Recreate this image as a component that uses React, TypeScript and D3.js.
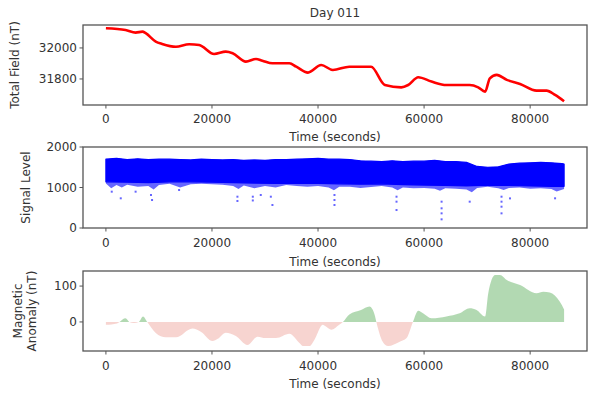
import React from 'react';
import * as d3 from 'd3';

// ---- Data ----
const title = 'Day 011';
const xTicks = [0, 20000, 40000, 60000, 80000];

const fieldTime = [0, 3700, 5600, 6900, 7500, 9400, 10600, 13200, 15700, 17600, 20400, 22600, 23900, 26400, 28300, 29500, 31400, 34600, 35900, 38100, 40600, 42800, 45900, 50000, 52600, 55700, 57000, 58900, 61400, 64200, 68600, 70200, 71500, 72400, 73700, 75600, 78100, 81200, 83100, 84700, 86400];
const fieldValue = [32127, 32116, 32099, 32105, 32095, 32041, 32026, 32008, 32024, 32019, 31961, 31976, 31966, 31912, 31929, 31918, 31901, 31901, 31879, 31841, 31890, 31858, 31879, 31879, 31761, 31746, 31761, 31811, 31783, 31761, 31761, 31746, 31718, 31804, 31826, 31794, 31768, 31725, 31725, 31697, 31656];
const fieldTicks = [31800, 32000];

// Signal level: dense scatter summarised as envelopes + sparse outliers
const sigUpperTime = [0, 2000, 4000, 6000, 8000, 10000, 12000, 14000, 16000, 18000, 20000, 22000, 24000, 26000, 28000, 30000, 32000, 34000, 36000, 38000, 40000, 42000, 44000, 46000, 48000, 50000, 52000, 54000, 56000, 58000, 60000, 62000, 64000, 66000, 68000, 70000, 72000, 74000, 76000, 78000, 80000, 82000, 84000, 86000, 86400];
const sigUpper = [1700, 1720, 1690, 1710, 1690, 1700, 1700, 1690, 1680, 1700, 1690, 1680, 1690, 1670, 1680, 1670, 1690, 1690, 1700, 1710, 1720, 1700, 1700, 1690, 1660, 1650, 1640, 1660, 1640, 1650, 1650, 1670, 1640, 1640, 1620, 1520, 1500, 1510, 1580, 1600, 1610, 1620, 1610, 1590, 1580];
const sigSolidLowerTime = [0, 4000, 8000, 12000, 16000, 20000, 24000, 28000, 32000, 36000, 40000, 44000, 48000, 52000, 56000, 60000, 64000, 68000, 72000, 76000, 80000, 84000, 86400];
const sigSolidLower = [1140, 1130, 1120, 1140, 1140, 1130, 1120, 1110, 1100, 1100, 1100, 1090, 1080, 1090, 1070, 1060, 1050, 1040, 1060, 1050, 1040, 1030, 1030];
const sigFringeTime = [0, 1000, 2000, 3000, 4000, 6000, 8000, 9000, 10000, 12000, 14000, 16000, 18000, 20000, 22000, 24000, 25000, 26000, 28000, 30000, 32000, 34000, 36000, 38000, 40000, 42000, 43000, 44000, 46000, 48000, 50000, 52000, 54000, 55000, 56000, 58000, 60000, 62000, 63000, 64000, 66000, 68000, 69000, 70000, 72000, 74000, 75000, 76000, 78000, 80000, 82000, 84000, 85000, 86400];
const sigFringe = [1100, 980, 1060, 1000, 1070, 1020, 1040, 950, 1060, 1090, 1000, 1080, 1090, 1080, 1070, 1040, 960, 1050, 980, 1040, 1000, 1060, 1040, 1020, 1040, 1000, 930, 1020, 1020, 990, 1010, 1040, 1000, 930, 1000, 980, 990, 970, 920, 980, 970, 950, 880, 990, 1020, 980, 940, 990, 1000, 970, 980, 960, 900, 960];
const outlierTime = [1100, 2800, 5600, 8500, 8700, 13800, 24800, 24800, 27700, 27700, 29200, 31100, 31400, 43100, 43100, 43100, 54800, 54800, 54800, 63300, 63300, 63300, 63300, 68600, 74600, 74600, 74600, 74600, 76200, 84700];
const outlierValue = [897, 733, 897, 815, 691, 938, 773, 667, 773, 680, 815, 773, 568, 815, 691, 568, 773, 650, 444, 650, 486, 362, 214, 650, 773, 650, 526, 362, 731, 733];
const sigTicks = [0, 1000, 2000];

const anomTime = [0, 2100, 3700, 4400, 5300, 6200, 7000, 7800, 9400, 11300, 13200, 16300, 17900, 20100, 21100, 22600, 24500, 26700, 28600, 30100, 32100, 34600, 36500, 37100, 38400, 39300, 40900, 41500, 42500, 44000, 44700, 45900, 48100, 49700, 50700, 51000, 52200, 53200, 55400, 56700, 57900, 58900, 59800, 61400, 64200, 66700, 68600, 69900, 71500, 72100, 73400, 74300, 75600, 78100, 81200, 82500, 83700, 85600, 86400];
const anomValue = [-8, -4, 10, 0, -3, 0, 15, 0, -31, -43, -43, -18, -27, -53, -47, -30, -39, -64, -41, -45, -45, -33, -59, -67, -67, -50, -8, -13, -22, -8, 0, 21, 33, 43, 19, 0, -55, -67, -55, -45, 0, 31, 24, 10, 15, 24, 38, 33, 15, 80, 131, 131, 117, 103, 80, 84, 82, 56, 35];
const anomTicks = [0, 100];

const FONT = 'DejaVu Sans, sans-serif';
const TXT = '#333';
const SPINE = '#555';

export default function App() {
  const W = 589, H = 396;
  const L = 83, R = 587;
  const x = d3.scaleLinear().domain([-4320, 90720]).range([L, R]);

  const p1 = { top: 25, bottom: 105 };
  const p2 = { top: 147, bottom: 228 };
  const p3 = { top: 271, bottom: 351 };

  const y1 = d3.scaleLinear().domain([31632, 32148]).range([p1.bottom, p1.top]);
  const y2 = d3.scaleLinear().domain([0, 2000]).range([p2.bottom, p2.top]);
  const y3 = d3.scaleLinear().domain([-81, 142]).range([p3.bottom, p3.top]);

  const fieldLine = d3.line<number>().x((_, i) => x(fieldTime[i])).y(d => y1(d)).curve(d3.curveMonotoneX)(fieldValue) || '';

  const band = (upT: number[], up: number[], loT: number[], lo: number[]) => {
    const u = upT.map((t, i) => [x(t), y2(up[i])]);
    const l = loT.map((t, i) => [x(t), y2(lo[i])]);
    return 'M' + u.map(p => p.join(',')).join('L') + 'L' + l.slice().reverse().map(p => p.join(',')).join('L') + 'Z';
  };
  const fringePath = band(sigUpperTime, sigUpper, sigFringeTime, sigFringe);
  const solidPath = band(sigUpperTime, sigUpper, sigSolidLowerTime, sigSolidLower);

  const anomArea = d3.area<number>().x((_, i) => x(anomTime[i])).y0(y3(0)).y1(d => y3(d)).curve(d3.curveMonotoneX)(anomValue) || '';

  const fs = 12;

  const xAxis = (bottom: number, labelY: number, tickLabelY: number) => (
    <g>
      {xTicks.map(t => (
        <g key={t}>
          <line x1={x(t)} x2={x(t)} y1={bottom} y2={bottom + 3.5} stroke={SPINE} strokeWidth={1} />
          <text x={x(t)} y={tickLabelY} textAnchor="middle" fontSize={fs} fill={TXT} fontFamily={FONT}>{t}</text>
        </g>
      ))}
      <text x={(L + R) / 2} y={labelY} textAnchor="middle" fontSize={fs} fill={TXT} fontFamily={FONT}>Time (seconds)</text>
    </g>
  );

  const yAxis = (ticks: number[], y: d3.ScaleLinear<number, number>) => (
    <g>
      {ticks.map(t => (
        <g key={t}>
          <line x1={L - 3.5} x2={L} y1={y(t)} y2={y(t)} stroke={SPINE} strokeWidth={1} />
          <text x={L - 6} y={y(t)} dy="0.35em" textAnchor="end" fontSize={fs} fill={TXT} fontFamily={FONT}>{t}</text>
        </g>
      ))}
    </g>
  );

  const frame = (p: { top: number; bottom: number }) => (
    <rect x={L} y={p.top} width={R - L} height={p.bottom - p.top} fill="none" stroke={SPINE} strokeWidth={1.3} />
  );

  return (
    <svg width={W} height={H} style={{ position: 'absolute', left: 0, top: 0, display: 'block', background: '#fff' }}>
      <defs>
        <clipPath id="pos"><rect x={L} y={p3.top} width={R - L} height={y3(0) - p3.top} /></clipPath>
        <clipPath id="neg"><rect x={L} y={y3(0)} width={R - L} height={p3.bottom - y3(0)} /></clipPath>
      </defs>
      <text x={(L + R) / 2} y={17} textAnchor="middle" fontSize={fs} fill={TXT} fontFamily={FONT}>{title}</text>

      {/* Panel 1 */}
      <path d={fieldLine} fill="none" stroke="#ff0000" strokeWidth={2.6} strokeLinejoin="round" />
      {frame(p1)}
      {yAxis(fieldTicks, y1)}
      {xAxis(p1.bottom, 141, 123)}
      <text transform={`translate(19,${(p1.top + p1.bottom) / 2}) rotate(-90)`} textAnchor="middle" fontSize={fs} fill={TXT} fontFamily={FONT}>Total Field (nT)</text>

      {/* Panel 2 */}
      <path d={fringePath} fill="#0000ff" fillOpacity={0.6} stroke="none" />
      <path d={solidPath} fill="#0000ff" stroke="#0000ff" strokeWidth={1.2} strokeLinejoin="round" />
      {outlierTime.map((t, i) => (
        <rect key={i} x={x(t) - 1} y={y2(outlierValue[i]) - 1} width={2} height={2} fill="#0000ff" opacity={0.6} />
      ))}
      {frame(p2)}
      {yAxis(sigTicks, y2)}
      {xAxis(p2.bottom, 266, 247)}
      <text transform={`translate(30,${(p2.top + p2.bottom) / 2}) rotate(-90)`} textAnchor="middle" fontSize={fs} fill={TXT} fontFamily={FONT}>Signal Level</text>

      {/* Panel 3 */}
      <path d={anomArea} fill="rgb(0,128,0)" fillOpacity={0.3} clipPath="url(#pos)" />
      <path d={anomArea} fill="rgb(220,60,40)" fillOpacity={0.22} clipPath="url(#neg)" />
      {frame(p3)}
      {yAxis(anomTicks, y3)}
      {xAxis(p3.bottom, 388, 370)}
      <text transform={`translate(22,${(p3.top + p3.bottom) / 2}) rotate(-90)`} textAnchor="middle" fontSize={fs} fill={TXT} fontFamily={FONT}>Magnetic</text>
      <text transform={`translate(36,${(p3.top + p3.bottom) / 2}) rotate(-90)`} textAnchor="middle" fontSize={fs} fill={TXT} fontFamily={FONT}>Anomaly (nT)</text>
    </svg>
  );
}
